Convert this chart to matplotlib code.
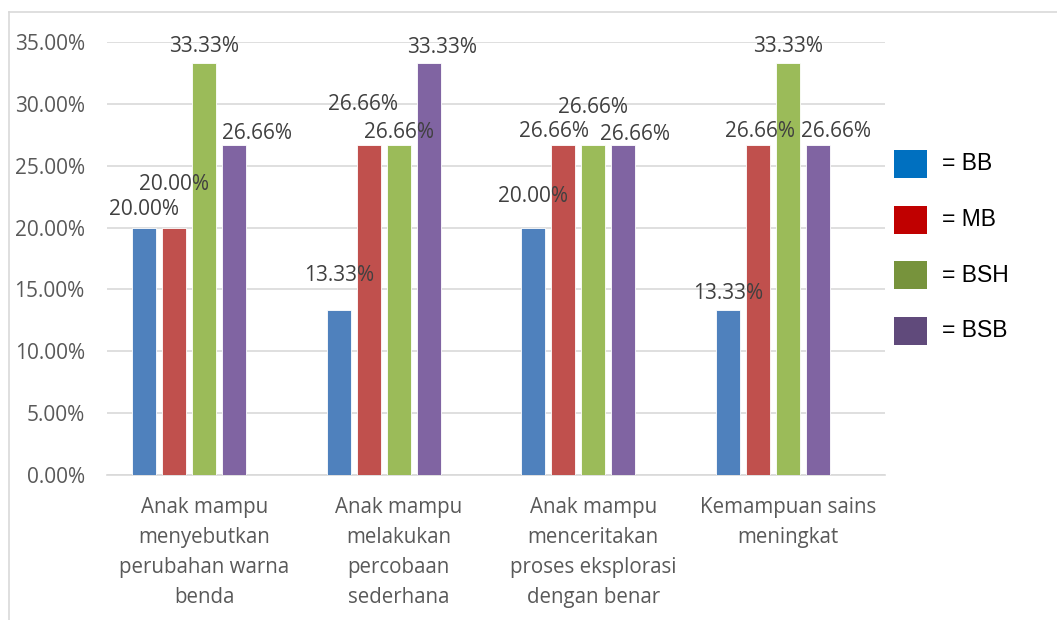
import numpy as np
import matplotlib
matplotlib.use("Agg")
import matplotlib.pyplot as plt
from matplotlib.patches import Rectangle
from matplotlib.lines import Line2D

# data
categories = ["Anak mampu\nmenyebutkan\nperubahan warna\nbenda",
              "Anak mampu\nmelakukan\npercobaan\nsederhana",
              "Anak mampu\nmenceritakan\nproses eksplorasi\ndengan benar",
              "Kemampuan sains\nmeningkat"]
series = ["BB", "MB", "BSH", "BSB"]
bb = [20.00, 13.33, 20.00, 13.33]
mb = [20.00, 26.66, 26.66, 26.66]
bsh = [33.33, 26.66, 26.66, 33.33]
bsb = [26.66, 33.33, 26.66, 26.66]
values = [bb, mb, bsh, bsb]

bar_colors = ["#4F81BD", "#C0504D", "#9BBB59", "#8064A2"]
legend_colors = ["#0070C0", "#C00000", "#77933C", "#604A7B"]

# label offsets (pixels) as placed by hand in the original chart
label_dx = [[0, 0, 0, 23], [0, -6, 0, 13], [0, -9, 0, 12], [0, 2, 0, 18]]
label_dy = [[18, 43, 16, 12], [35, 41, 13, 15], [31, 14, 38, 11], [17, 14, 16, 14]]

fig = plt.figure(figsize=(10.57, 6.2), dpi=100)
ax = fig.add_axes([107 / 1057, 1 - 475 / 620, (885 - 107) / 1057, (475 - 42) / 620])

font = "Open Sans"
x = np.arange(len(categories))
step = 30 / 194.5
w = 24 / 194.5
for i, (vals, col) in enumerate(zip(values, bar_colors)):
    pos = x + (i - 2) * step
    ax.bar(pos, vals, width=w, color=col, edgecolor="white", linewidth=0.6, zorder=3)
    for j, v in enumerate(vals):
        ax.annotate(f"{v:.2f}%", (pos[j], v), xytext=(label_dx[j][i], label_dy[j][i]),
                    textcoords="offset pixels", ha="center", va="center",
                    fontsize=15, family=font, color="#404040", zorder=5)

ax.set_xlim(-0.5, 3.5)
ax.set_ylim(0, 35)
ax.set_yticks(np.arange(0, 36, 5))
ax.set_yticklabels([f"{t:.2f}%" for t in np.arange(0, 36, 5)], family=font,
                   fontsize=15, color="#595959")
ax.set_xticks(x)
ax.set_xticklabels(categories, family=font, fontsize=14.8, color="#595959",
                   linespacing=1.56, va="top")
ax.tick_params(axis="both", length=0)
ax.tick_params(axis="x", pad=16)
ax.tick_params(axis="y", pad=16)
ax.grid(axis="y", color="#D9D9D9", linewidth=1.2, zorder=0)
for s in ["top", "right", "left"]:
    ax.spines[s].set_visible(False)
ax.spines["bottom"].set_color("#D9D9D9")
ax.spines["bottom"].set_linewidth(1.2)

# legend drawn as squares + text in figure pixels
for k, (name, col) in enumerate(zip(series, legend_colors)):
    yc = 164 + k * 55.5
    fig.patches.append(Rectangle((894 / 1057, 1 - (yc + 14) / 620), 33 / 1057, 28 / 620,
                                 transform=fig.transFigure, facecolor=col,
                                 edgecolor="none"))
    fig.text(942 / 1057, 1 - yc / 620, "= " + name, family="Liberation Sans",
             fontsize=16.5, color="black", va="center", ha="left")

# chart frame
fig.add_artist(Line2D([9 / 1057, 9 / 1057], [0, 1 - 12 / 620], transform=fig.transFigure,
                      color="#D9D9D9", linewidth=1.2))
fig.add_artist(Line2D([9 / 1057, 1], [1 - 12 / 620, 1 - 12 / 620], transform=fig.transFigure,
                      color="#D9D9D9", linewidth=1.2))

fig.savefig("out.png", dpi=100)
